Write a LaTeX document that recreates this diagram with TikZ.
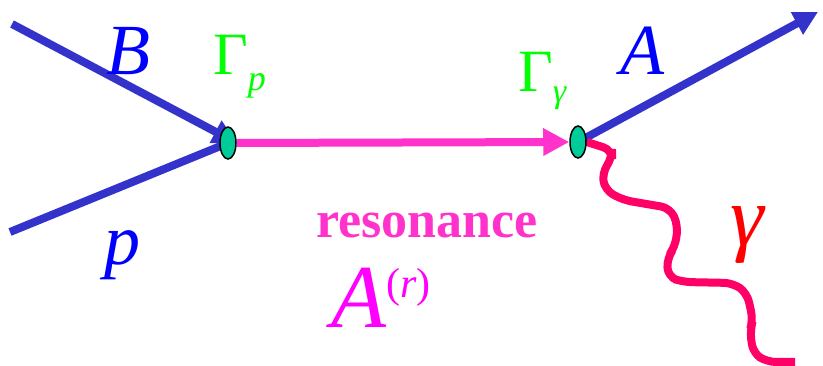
\documentclass[tikz,border=0pt]{standalone}
\usepackage{fontspec}
\setmainfont{Liberation Serif}[ItalicFont={Liberation Serif Italic}, BoldFont={Liberation Serif Bold}]
\usepackage{xcolor}
\usetikzlibrary{arrows.meta,shapes.geometric,backgrounds}

\definecolor{lineblue}{HTML}{3333CC}
\definecolor{txtblue}{HTML}{0000FF}
\definecolor{txtgreen}{HTML}{00FF00}
\definecolor{vtxgreen}{HTML}{00CC99}
\definecolor{resmag}{HTML}{FF33CC}
\definecolor{amag}{HTML}{FF00FF}
\definecolor{photon}{HTML}{FF0066}

\newcommand{\fsz}[1]{\fontsize{#1}{#1}\selectfont}

\begin{document}
\begin{tikzpicture}[
  x=1pt, y=-1pt,
  vertex/.style={ellipse, draw=black, line width=1.5pt, fill=vtxgreen, minimum width=16pt, minimum height=32pt, inner sep=0pt},
  particle/.style={line width=8pt, lineblue},
  resline/.style={line width=8pt, resmag},
  wavy/.style={line width=8pt, photon, rounded corners=9pt},
  lbl/.style={inner sep=0pt, anchor=base west}
]
\useasboundingbox (0,0) rectangle (823,366);

\node[vertex] (vp) at (228,143) {};
\node[vertex] (vg) at (578,142) {};

\coordinate (bin) at (12,24);
\coordinate (pin) at (10,232);
\coordinate (aout) at (818,12);
\coordinate (gout) at (795,362);

\begin{scope}[on background layer]
\draw[particle, -{Triangle[length=24pt,width=24pt]}] (bin) -- (vp.east);
\draw[particle] (pin) -- (vp.center);
\draw[resline, -{Triangle[length=26pt,width=26pt]}] (vp.east) -- (vg.west);
\draw[particle, -{Triangle[length=24pt,width=24pt]}] (vg.center) -- (aout);
\draw[wavy] (vg.east) -- (612,150) -- (612,158) -- (602,173) -- (605,190) -- (623,200)
  -- (670,208) -- (678,225) -- (675,247) -- (667,258) -- (668,277) -- (683,282)
  -- (733,283) -- (747,293) -- (753,320) -- (750,330) -- (753,353) -- (767,362) -- (gout);
\end{scope}

\node[lbl, txtblue] (lb) at (106,75) {\fsz{72}\itshape B};
\node[lbl, txtblue] (lp) at (104,265) {\fsz{72}\itshape p};
\node[lbl, txtblue] (la) at (620,75) {\fsz{72}\itshape A};
\node[lbl, txtgreen] (gp) at (213,75) {\fsz{60}Γ\raisebox{-16pt}{\fsz{36}\itshape p}};
\node[lbl, txtgreen] (gg) at (518,92) {\fsz{60}Γ\raisebox{-11pt}{\fsz{34}\itshape γ}};
\node[lbl, resmag] (res) at (316,238) {\fsz{52}\bfseries resonance};
\node[lbl, amag] (ar) at (331,328) {\fsz{90}\itshape A\raisebox{30pt}{\fsz{42}\upshape(\itshape r\upshape)}};
\node[lbl, red] (lg) at (730,246) {\fsz{85}\itshape γ};

\end{tikzpicture}
\end{document}
